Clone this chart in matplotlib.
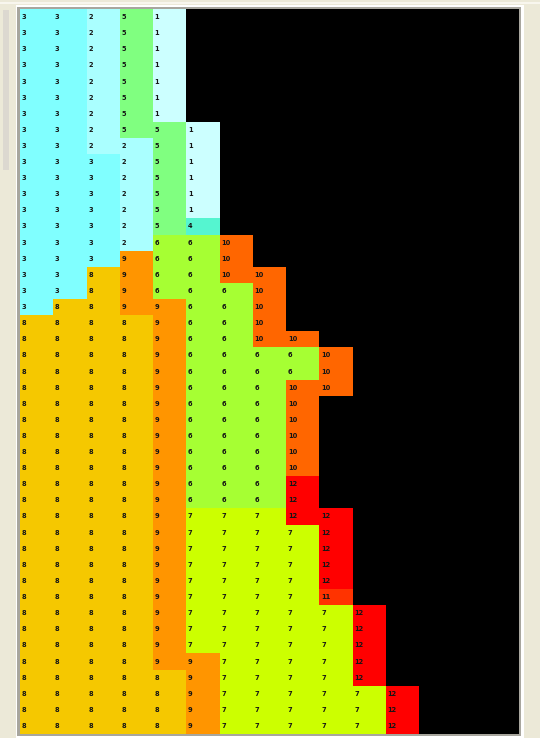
import numpy as np
import matplotlib.pyplot as plt
from matplotlib.colors import ListedColormap, BoundaryNorm
from matplotlib.patches import Rectangle

# cell values, one list per row (top to bottom), missing cells are black
rows = [
    [3, 3, 2, 5, 1],
    [3, 3, 2, 5, 1],
    [3, 3, 2, 5, 1],
    [3, 3, 2, 5, 1],
    [3, 3, 2, 5, 1],
    [3, 3, 2, 5, 1],
    [3, 3, 2, 5, 1],
    [3, 3, 2, 5, 5, 1],
    [3, 3, 2, 2, 5, 1],
    [3, 3, 3, 2, 5, 1],
    [3, 3, 3, 2, 5, 1],
    [3, 3, 3, 2, 5, 1],
    [3, 3, 3, 2, 5, 1],
    [3, 3, 3, 2, 5, 4],
    [3, 3, 3, 2, 6, 6, 10],
    [3, 3, 3, 9, 6, 6, 10],
    [3, 3, 8, 9, 6, 6, 10, 10],
    [3, 3, 8, 9, 6, 6, 6, 10],
    [3, 8, 8, 9, 9, 6, 6, 10],
    [8, 8, 8, 8, 9, 6, 6, 10],
    [8, 8, 8, 8, 9, 6, 6, 10, 10],
    [8, 8, 8, 8, 9, 6, 6, 6, 6, 10],
    [8, 8, 8, 8, 9, 6, 6, 6, 6, 10],
    [8, 8, 8, 8, 9, 6, 6, 6, 10, 10],
    [8, 8, 8, 8, 9, 6, 6, 6, 10],
    [8, 8, 8, 8, 9, 6, 6, 6, 10],
    [8, 8, 8, 8, 9, 6, 6, 6, 10],
    [8, 8, 8, 8, 9, 6, 6, 6, 10],
    [8, 8, 8, 8, 9, 6, 6, 6, 10],
    [8, 8, 8, 8, 9, 6, 6, 6, 12],
    [8, 8, 8, 8, 9, 6, 6, 6, 12],
    [8, 8, 8, 8, 9, 7, 7, 7, 12, 12],
    [8, 8, 8, 8, 9, 7, 7, 7, 7, 12],
    [8, 8, 8, 8, 9, 7, 7, 7, 7, 12],
    [8, 8, 8, 8, 9, 7, 7, 7, 7, 12],
    [8, 8, 8, 8, 9, 7, 7, 7, 7, 12],
    [8, 8, 8, 8, 9, 7, 7, 7, 7, 11],
    [8, 8, 8, 8, 9, 7, 7, 7, 7, 7, 12],
    [8, 8, 8, 8, 9, 7, 7, 7, 7, 7, 12],
    [8, 8, 8, 8, 9, 7, 7, 7, 7, 7, 12],
    [8, 8, 8, 8, 9, 9, 7, 7, 7, 7, 12],
    [8, 8, 8, 8, 8, 9, 7, 7, 7, 7, 12],
    [8, 8, 8, 8, 8, 9, 7, 7, 7, 7, 7, 12],
    [8, 8, 8, 8, 8, 9, 7, 7, 7, 7, 7, 12],
    [8, 8, 8, 8, 8, 9, 7, 7, 7, 7, 7, 12],
]
n_cols = 15

# colour for value 1..12
value_colors = ['#ccffff', '#aaffff', '#80ffff', '#55f5d0', '#80ff80', '#a6ff33',
                '#ccff00', '#f5c800', '#ff9500', '#ff6600', '#ff3300', '#ff0000']

grid = np.full((len(rows), n_cols), np.nan)
for r, vals in enumerate(rows):
    grid[r, :len(vals)] = vals

cmap = ListedColormap(value_colors)
cmap.set_bad('black')
norm = BoundaryNorm(np.arange(0.5, 13.5), cmap.N)

W, H = 540, 738
fig = plt.figure(figsize=(W / 100, H / 100), dpi=100, facecolor='#ece9d8')

# window chrome, kept behind the axes
def chrome(x, y, w, h, color):
    fig.patches.append(Rectangle((x / W, 1 - (y + h) / H), w / W, h / H, transform=fig.transFigure,
                                 facecolor=color, edgecolor='none', zorder=-10))

chrome(3, 10, 6, 160, '#dcd8d0')
chrome(0, 2, W, 1.5, '#f8f6ee')
chrome(16, 5, 508, 733, 'white')
chrome(17, 7, 504, 729, '#a8a69e')

ax = fig.add_axes([20 / W, 1 - 734 / H, 499 / W, 725 / H])
ax.set_facecolor('black')
ax.pcolormesh(np.ma.masked_invalid(grid), cmap=cmap, norm=norm)
ax.set_xlim(0, n_cols)
ax.set_ylim(len(rows), 0)
ax.set_xticks([])
ax.set_yticks([])
for s in ax.spines.values():
    s.set_visible(False)

for r in range(grid.shape[0]):
    for c in range(n_cols):
        if not np.isnan(grid[r, c]):
            ax.text(c + 0.05, r + 0.5, str(int(grid[r, c])), ha='left', va='center',
                    fontsize=4.8, fontweight='bold', color='#151515')

fig.savefig('out.png', dpi=100, facecolor=fig.get_facecolor())
